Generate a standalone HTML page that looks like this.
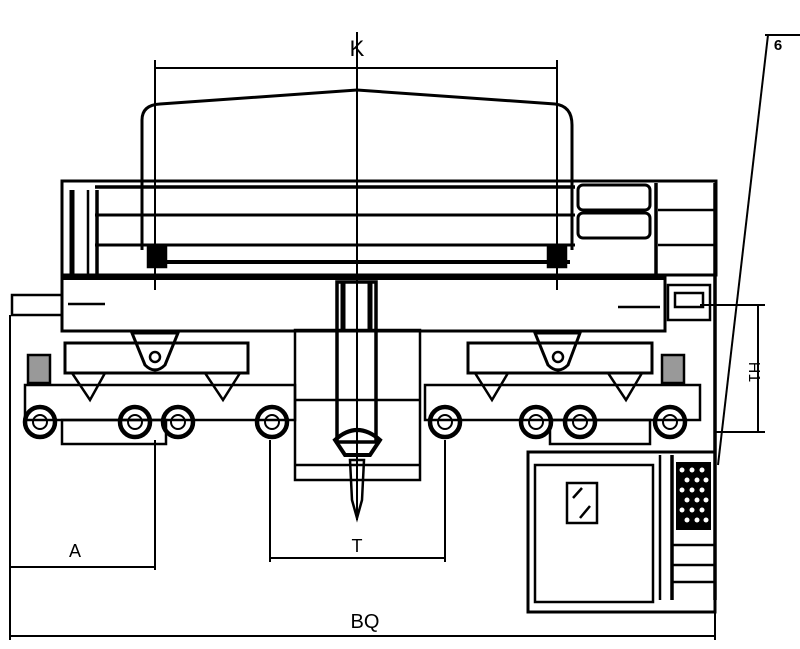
<!DOCTYPE html>
<html><head><meta charset="utf-8"><style>html,body{margin:0;padding:0;background:#fff}svg{display:block}</style></head>
<body>
<svg width="800" height="649" viewBox="0 0 800 649" xmlns="http://www.w3.org/2000/svg" font-family="Liberation Sans, sans-serif">
<g fill="none" stroke="#000" stroke-width="2.5">
<line x1="155" y1="68" x2="557" y2="68" stroke-width="2"/>
<line x1="155" y1="60" x2="155" y2="290" stroke-width="2"/>
<line x1="557" y1="60" x2="557" y2="290" stroke-width="2"/>
<line x1="357" y1="32" x2="357" y2="520" stroke-width="2"/>
<path d="M142 250 L142 120 Q142 105 160 104 L357 90 L555 104 Q572 106 572 125 L572 250" stroke-width="3"/>
<rect x="62" y="181" width="654" height="94" stroke-width="3"/>
<line x1="95" y1="187" x2="575" y2="187" stroke-width="3.5"/>
<line x1="95" y1="215" x2="575" y2="215" stroke-width="3"/>
<line x1="95" y1="245" x2="575" y2="245" stroke-width="3"/>
<line x1="150" y1="262" x2="570" y2="262" stroke-width="4"/>
<line x1="72" y1="190" x2="72" y2="275" stroke-width="5"/>
<line x1="88" y1="190" x2="88" y2="275" stroke-width="2.5"/>
<line x1="97" y1="190" x2="97" y2="275" stroke-width="3.5"/>
<rect x="148" y="245" width="18" height="22" fill="#000"/>
<rect x="548" y="245" width="18" height="22" fill="#000"/>
<rect x="578" y="185" width="72" height="25" rx="5" stroke-width="3"/>
<rect x="578" y="213" width="72" height="25" rx="5" stroke-width="3"/>
<line x1="656" y1="183" x2="656" y2="275" stroke-width="3.5"/>
<line x1="715" y1="183" x2="715" y2="600" stroke-width="3.5"/>
<line x1="658" y1="210" x2="715" y2="210"/>
<line x1="658" y1="245" x2="715" y2="245"/>
<rect x="62" y="276" width="603" height="55" stroke-width="3"/>
<line x1="62" y1="277" x2="665" y2="277" stroke-width="6"/>
<rect x="12" y="295" width="50" height="20"/>
<line x1="68" y1="304" x2="105" y2="304"/>
<line x1="618" y1="307" x2="660" y2="307"/>
<rect x="668" y="285" width="42" height="35"/>
<rect x="675" y="293" width="28" height="14"/>
<rect x="65" y="343" width="183" height="30" stroke-width="3"/>
<rect x="468" y="343" width="184" height="30" stroke-width="3"/>
<path d="M132 333 L178 333 L165 365 Q155 375 145 365 Z" stroke-width="3"/>
<path d="M535 333 L580 333 L568 365 Q558 375 548 365 Z" stroke-width="3"/>
<circle cx="155" cy="357" r="5"/><circle cx="558" cy="357" r="5"/>
<rect x="25" y="385" width="270" height="35"/>
<rect x="62" y="420" width="104" height="24"/>
<rect x="425" y="385" width="275" height="35"/>
<rect x="550" y="420" width="100" height="24"/>
<path d="M72 373 L105 373 L90 400 Z"/><path d="M205 373 L240 373 L223 400 Z"/>
<path d="M475 373 L508 373 L492 400 Z"/><path d="M608 373 L642 373 L626 400 Z"/>
<rect x="28" y="355" width="22" height="28" fill="#000" fill-opacity="0.4"/>
<rect x="662" y="355" width="22" height="28" fill="#000" fill-opacity="0.4"/>
<g stroke-width="4.5">
<circle cx="40" cy="422" r="15"/><circle cx="135" cy="422" r="15"/><circle cx="178" cy="422" r="15"/><circle cx="272" cy="422" r="15"/>
<circle cx="445" cy="422" r="15"/><circle cx="536" cy="422" r="15"/><circle cx="580" cy="422" r="15"/><circle cx="670" cy="422" r="15"/>
</g>
<g stroke-width="2">
<circle cx="40" cy="422" r="7"/><circle cx="135" cy="422" r="7"/><circle cx="178" cy="422" r="7"/><circle cx="272" cy="422" r="7"/>
<circle cx="445" cy="422" r="7"/><circle cx="536" cy="422" r="7"/><circle cx="580" cy="422" r="7"/><circle cx="670" cy="422" r="7"/>
</g>
<rect x="295" y="330" width="125" height="150"/>
<line x1="295" y1="400" x2="420" y2="400"/>
<line x1="295" y1="465" x2="420" y2="465"/>
<rect x="337" y="282" width="39" height="160" stroke-width="3.5"/>
<line x1="343" y1="282" x2="343" y2="330" stroke-width="5"/>
<line x1="370" y1="282" x2="370" y2="330" stroke-width="5"/>
<path d="M335 440 Q357 420 380 440 L370 455 L345 455 Z" stroke-width="4"/>
<path d="M350 460 L364 460 L362 500 L357 518 L352 500 Z"/>
<rect x="528" y="452" width="187" height="160" stroke-width="3"/>
<rect x="535" y="465" width="118" height="137"/>
<rect x="567" y="483" width="30" height="40"/>
<line x1="573" y1="498" x2="582" y2="488"/><line x1="580" y1="518" x2="590" y2="506"/>
<line x1="672" y1="455" x2="672" y2="600" stroke-width="3.5"/>
<line x1="660" y1="455" x2="660" y2="600"/>
<line x1="672" y1="545" x2="715" y2="545"/><line x1="672" y1="565" x2="715" y2="565"/><line x1="672" y1="582" x2="715" y2="582"/>
<line x1="765" y1="35" x2="800" y2="35" stroke-width="2"/>
<line x1="768" y1="35" x2="718" y2="465" stroke-width="2"/>
<line x1="700" y1="305" x2="765" y2="305" stroke-width="2"/>
<line x1="715" y1="432" x2="765" y2="432" stroke-width="2"/>
<line x1="758" y1="305" x2="758" y2="432" stroke-width="2"/>
<line x1="10" y1="315" x2="10" y2="640" stroke-width="2"/>
<line x1="155" y1="440" x2="155" y2="570" stroke-width="2"/>
<line x1="270" y1="440" x2="270" y2="562" stroke-width="2"/>
<line x1="445" y1="440" x2="445" y2="562" stroke-width="2"/>
<line x1="715" y1="600" x2="715" y2="640" stroke-width="2"/>
<line x1="10" y1="567" x2="155" y2="567" stroke-width="2"/>
<line x1="270" y1="558" x2="445" y2="558" stroke-width="2"/>
<line x1="10" y1="636" x2="715" y2="636" stroke-width="2"/>
</g>
<rect x="676" y="462" width="35" height="68" fill="#000"/>
<g fill="#fff">
<circle cx="682" cy="470" r="2.5"/><circle cx="692" cy="470" r="2.5"/><circle cx="702" cy="470" r="2.5"/>
<circle cx="687" cy="480" r="2.5"/><circle cx="697" cy="480" r="2.5"/><circle cx="706" cy="480" r="2.5"/>
<circle cx="682" cy="490" r="2.5"/><circle cx="692" cy="490" r="2.5"/><circle cx="702" cy="490" r="2.5"/>
<circle cx="687" cy="500" r="2.5"/><circle cx="697" cy="500" r="2.5"/><circle cx="706" cy="500" r="2.5"/>
<circle cx="682" cy="510" r="2.5"/><circle cx="692" cy="510" r="2.5"/><circle cx="702" cy="510" r="2.5"/>
<circle cx="687" cy="520" r="2.5"/><circle cx="697" cy="520" r="2.5"/><circle cx="706" cy="520" r="2.5"/>
</g>
<g fill="#000">
<text x="357" y="56" font-size="22" text-anchor="middle">K</text>
<text x="778" y="50" font-size="15" text-anchor="middle" font-weight="bold">6</text>
<text x="75" y="557" font-size="18" text-anchor="middle">A</text>
<text x="357" y="552" font-size="18" text-anchor="middle">T</text>
<text x="365" y="628" font-size="20" text-anchor="middle">BQ</text>
<text x="0" y="0" font-size="16" text-anchor="middle" transform="translate(749,372) rotate(90)">H1</text>
</g>
</svg>
</body></html>
